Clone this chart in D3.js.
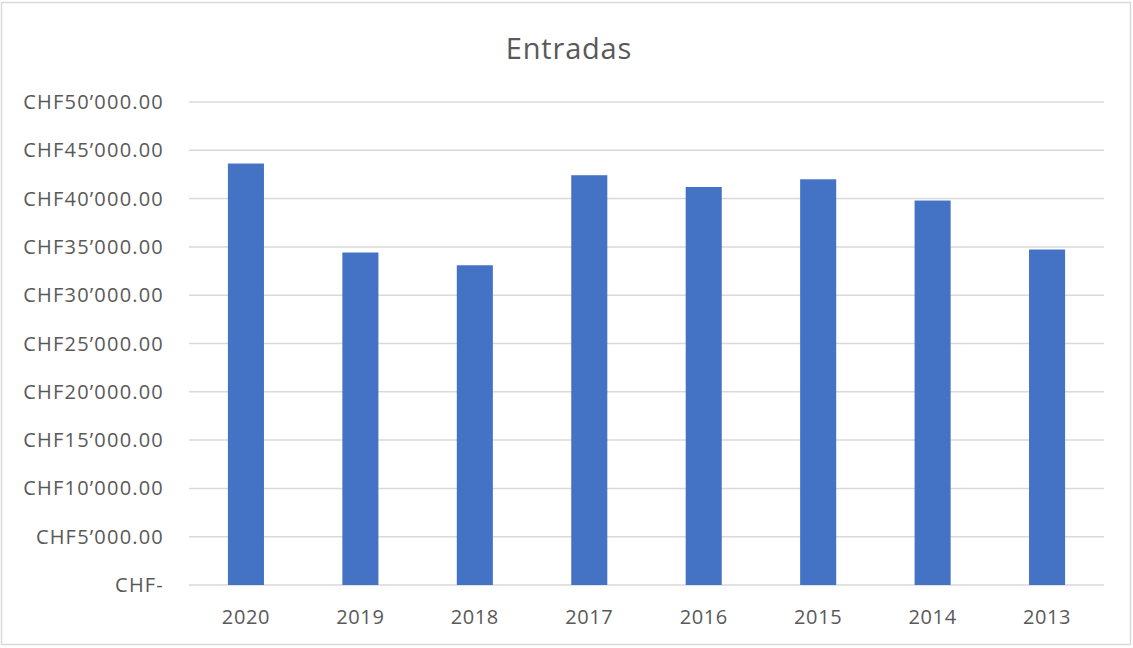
<!DOCTYPE html>
<html>
<head>
<meta charset="utf-8">
<script src="https://cdn.jsdelivr.net/npm/d3@7.9.0/dist/d3.min.js"></script>
<style>
  body { margin: 0; background: #fff; }
  svg text { font-family: "Open Sans", sans-serif; fill: #595959; }
</style>
</head>
<body>
<svg id="chart" width="1133" height="648"></svg>
<script>
const years = ['2020', '2019', '2018', '2017', '2016', '2015', '2014', '2013'];
const entradas = [43630, 34420, 33100, 42420, 41200, 42000, 39800, 34730];
const yTicks = [0, 5000, 10000, 15000, 20000, 25000, 30000, 35000, 40000, 45000, 50000];

const svg = d3.select('#chart');

// outer frame
svg.append('rect')
    .attr('x', 1.5).attr('y', 2.5)
    .attr('width', 1129).attr('height', 642)
    .attr('fill', '#fff')
    .attr('stroke', '#d9d9d9')
    .attr('stroke-width', 1.5);

const plotLeft = 189, plotRight = 1104, plotTop = 102, plotBottom = 585;

const x = d3.scaleBand().domain(years).range([plotLeft, plotRight]).paddingInner(0.685).paddingOuter(0.34);
const y = d3.scaleLinear().domain([0, 50000]).range([plotBottom, plotTop]);

// swiss style number format
function chf(v) {
    if (v === 0) return 'CHF-';
    let s = d3.format(',.2f')(v).replace(/,/g, '\u2019');
    return 'CHF' + s;
}

// gridlines
svg.append('g').selectAll('line')
    .data(yTicks)
    .join('line')
    .attr('x1', plotLeft).attr('x2', plotRight)
    .attr('y1', d => y(d)).attr('y2', d => y(d))
    .attr('stroke', '#d9d9d9')
    .attr('stroke-width', 1.5);

// y labels
svg.append('g').selectAll('text')
    .data(yTicks)
    .join('text')
    .attr('x', 164)
    .attr('y', d => y(d))
    .attr('dy', '0.35em')
    .attr('text-anchor', 'end')
    .attr('font-size', 20)
    .attr('letter-spacing', 1.2)
    .text(d => chf(d));

// bars
svg.append('g').selectAll('rect')
    .data(entradas)
    .join('rect')
    .attr('x', (d, i) => x(years[i]))
    .attr('y', d => y(d))
    .attr('width', x.bandwidth())
    .attr('height', d => y(0) - y(d))
    .attr('fill', '#4472c4');

// x labels
svg.append('g').selectAll('text')
    .data(years)
    .join('text')
    .attr('x', d => x(d) + x.bandwidth() / 2)
    .attr('y', 617)
    .attr('dy', '0.35em')
    .attr('text-anchor', 'middle')
    .attr('font-size', 20)
    .attr('letter-spacing', 0.6)
    .text(d => d);

// title
svg.append('text')
    .attr('x', 569)
    .attr('y', 49)
    .attr('dy', '0.35em')
    .attr('text-anchor', 'middle')
    .attr('font-size', 29)
    .attr('letter-spacing', 0.8)
    .text('Entradas');
</script>
</body>
</html>
